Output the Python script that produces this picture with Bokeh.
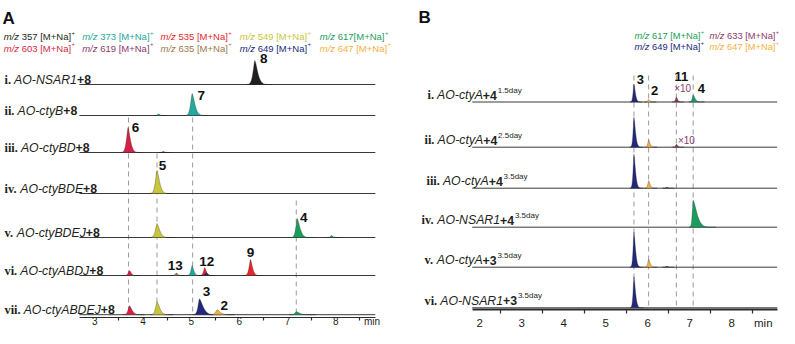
import numpy as np
from bokeh.plotting import figure
from bokeh.models import Range1d, FixedTicker, ColumnDataSource
from bokeh.layouts import row
from bokeh.core.properties import value
from bokeh.embed import file_html
from bokeh.resources import INLINE

# ---------------- ion colours (m/z) ----------------
MZ_COLOR = {357: "#231f20", 373: "#22a89c", 535: "#e3262e", 549: "#c8c63a",
            617: "#1a9d5c", 603: "#d61f45", 619: "#8c3a6e", 635: "#9c7a4c",
            649: "#23287a", 647: "#f4b143", 633: "#8a3a68"}

# ---------------- Panel A data ----------------
A_ROMAN = ["i.", "ii.", "iii.", "iv.", "v.", "vi.", "vii."]
A_STRAIN = ["AO-NSAR1", "AO-ctyB", "AO-ctyBD", "AO-ctyBDE", "AO-ctyBDEJ", "AO-ctyABDJ", "AO-ctyABDEJ"]
A_SUBSTRATE = ["+8", "+8", "+8", "+8", "+8", "+8", "+8"]
A_TICKS = [3, 4, 5, 6, 7, 8]
A_MINOR = [3.5, 4.5, 5.5, 6.5, 7.5, 8.5]
A_RUN = (2.68, 8.82)
A_REF_RT = [3.70, 4.29, 5.03, 7.18]
A_LEG_ROW1 = [357, 373, 535, 549, 617]
A_LEG_ROW2 = [603, 619, 635, 649, 647]
A_LEG_SEP1 = [" ", " ", " ", " ", ""]
A_LEG_SEP2 = [" ", " ", " ", " ", " "]

A_PK_TRACE = [0, 1, 1, 2, 2, 3, 4, 4, 4, 5, 5, 5, 5, 5, 5, 6, 6, 6, 6, 6]
A_PK_RT = [6.32, 4.32, 5.02, 3.69, 4.42, 4.29, 4.29, 7.20, 7.91, 3.72, 4.69, 5.02, 5.28, 5.31, 6.23, 3.72, 4.29, 5.17, 5.54, 7.18]
A_PK_H = [24, 1.5, 22, 25, 1.0, 23, 14, 19, 2, 5, 2.5, 10, 8, 3, 16, 9, 13, 16, 5, 3]
A_PK_MZ = [357, 373, 373, 603, 357, 549, 549, 617, 617, 603, 635, 373, 535, 649, 535, 603, 549, 649, 647, 617]
A_PK_SL = [0.05, 0.03, 0.045, 0.045, 0.03, 0.045, 0.045, 0.04, 0.03, 0.035, 0.03, 0.035, 0.035, 0.03, 0.04, 0.04, 0.04, 0.04, 0.045, 0.04]
A_PK_SR = [0.08, 0.04, 0.075, 0.065, 0.04, 0.07, 0.075, 0.075, 0.04, 0.045, 0.04, 0.045, 0.045, 0.04, 0.055, 0.07, 0.075, 0.1, 0.08, 0.09]
A_PK_LABEL = ["8", "", "7", "6", "", "5", "", "4", "", "", "13", "", "12", "", "9", "", "", "3", "2", ""]

# ---------------- Panel B data ----------------
B_ROMAN = ["i.", "ii.", "iii.", "iv.", "v.", "vi."]
B_STRAIN = ["AO-ctyA", "AO-ctyA", "AO-ctyA", "AO-NSAR1", "AO-ctyA", "AO-NSAR1"]
B_SUBSTRATE = ["+4", "+4", "+4", "+4", "+3", "+3"]
B_TIME = ["1.5day", "2.5day", "3.5day", "3.5day", "3.5day", "3.5day"]
B_TICKS = [2, 3, 4, 5, 6, 7, 8]
B_MINOR = [2.5, 3.5, 4.5, 5.5, 6.5, 7.5, 8.5]
B_RUN = (1.82, 9.08)
B_REF_RT = [5.67, 6.02, 6.68, 7.08]
B_LEG_ROW1 = [617, 633]
B_LEG_ROW2 = [649, 647]

B_PK_TRACE = [0, 0, 0, 0, 1, 1, 1, 2, 2, 2, 3, 4, 4, 4, 5]
B_PK_RT = [5.67, 6.02, 6.68, 7.08, 5.67, 6.02, 6.68, 5.67, 6.02, 6.45, 7.08, 5.67, 6.02, 6.45, 5.67]
B_PK_H = [18, 2.5, 5, 7, 30, 7, 3, 34, 7.5, 1, 27, 35, 8, 1, 31]
B_PK_MZ = [649, 647, 633, 617, 649, 647, 633, 649, 647, 649, 617, 649, 647, 649, 649]
B_PK_SL = [0.028, 0.03, 0.028, 0.03, 0.028, 0.028, 0.028, 0.028, 0.028, 0.03, 0.028, 0.028, 0.028, 0.03, 0.028]
B_PK_SR = [0.045, 0.04, 0.04, 0.06, 0.05, 0.045, 0.04, 0.05, 0.045, 0.04, 0.12, 0.05, 0.045, 0.04, 0.05]
B_PK_LABEL = ["3", "2", "11", "4", "", "", "", "", "", "", "", "", "", "", ""]
B_PK_NOTE = ["", "", "×10", "", "", "", "×10", "", "", "", "", "", "", "", ""]

# ---------------- layout (pixels of the picture) ----------------
H = 328
A_W, B_W = 392, 387
A_PPM, A_PX3 = 48.2, 94.3          # px per minute, x of 3 min
B_PPM, B_PX2 = 42.0, 479.3         # px per minute, x of 2 min
A_BASE = [84, 115, 152, 193, 237, 275, 314.2]
A_AXIS_Y = 316.5
B_BASE = [101.5, 146.7, 187.7, 226.7, 266.7, 307.3]
B_AXIS_Y = 309.3
A_DASH_TOP = [117, 153, 117, 200]
A_LAB_OFF = {"8": (9, -2), "7": (9, 2), "6": (7.5, 0), "5": (5.5, -5), "4": (6.5, -1.5),
             "13": (-1, -7.5), "12": (2, -6), "9": (0, -7.5), "3": (7, -7), "2": (7, -4)}
B_LAB_OFF = {"3": (6.5, -4.5), "2": (6, -9.5), "11": (5, -20.5), "4": (8.3, -7)}
B_NOTE_OFF = [(6.3, -8.4), (10, -3.7)]

ARIAL = {' ': 278, '+': 584, '-': 333, '.': 278, '/': 278, '[': 278, ']': 278, 'A': 667, 'B': 667,
         'C': 722, 'D': 722, 'E': 667, 'J': 500, 'M': 833, 'N': 722, 'O': 778, 'R': 722, 'S': 667,
         'a': 556, 'c': 500, 'd': 556, 'm': 833, 't': 278, 'y': 500, 'z': 500}
TIMESB = {'i': 278, 'v': 500, '.': 250, ' ': 250}


def tw(s, size, tbl=ARIAL):
    return sum(tbl.get(c, 556) for c in s) * size / 1000.0


def ta(px):
    return 3 + (px - A_PX3) / A_PPM


def tb(px):
    return 2 + (px - B_PX2) / B_PPM


def make_fig(width, x0, x1):
    p = figure(width=width, height=H, x_range=Range1d(x0, x1),
               y_range=Range1d(H, 0), output_backend="svg", toolbar_location=None,
               y_axis_type=None, min_border_left=0, min_border_right=0, min_border_top=0,
               min_border_bottom=0)
    p.outline_line_color = None
    p.xgrid.visible = False
    p.ygrid.visible = False
    p.background_fill_color = "white"
    p.border_fill_color = "white"
    return p


def peak_shape(rt, h, sl, sr, base):
    t = np.concatenate([np.linspace(rt - 3.5 * sl, rt, 25), np.linspace(rt, rt + 4.5 * sr, 35)[1:]])
    d = np.where(t < rt, (rt - t) / sl, (t - rt) / sr)
    y = h * np.exp(-d ** 1.5)
    return list(t), list(base - y)


def style_axis(p, ticks, minor, run, minpos, axis_y, fsize, standoff, lw, tick_len):
    allt = list(ticks) + [minpos]
    ax = p.xaxis[0]
    ax.fixed_location = axis_y
    ax.ticker = FixedTicker(ticks=allt, minor_ticks=minor)
    ov = {float(t): str(t) for t in ticks}
    ov[float(minpos)] = "min"
    ax.major_label_overrides = ov
    ax.bounds = run
    ax.axis_line_color = "#2b2b2b"
    ax.axis_line_width = lw
    ax.major_tick_out = 0
    ax.major_tick_in = 0
    ax.minor_tick_out = tick_len
    ax.minor_tick_in = 0
    ax.minor_tick_line_color = "#2b2b2b"
    ax.minor_tick_line_width = 1.2
    ax.major_label_standoff = standoff
    ax.major_label_text_font = "Liberation Sans"
    ax.major_label_text_font_size = fsize
    ax.major_label_text_color = "#231f20"


def add_texts(p, xs, ys, texts, colors, font, style, size, align="left", baseline="alphabetic"):
    src = ColumnDataSource(dict(x=xs, y=ys, t=texts, c=colors))
    p.text(x="x", y="y", text="t", text_color="c", source=src, text_font=value(font),
           text_font_style=style, text_font_size=size, text_align=align, text_baseline=baseline)


def draw_panel(p, base, run, ref_rt, dash_top, dash_bot,
               pk_trace, pk_rt, pk_h, pk_mz, pk_sl, pk_sr):
    p.segment(x0=ref_rt, x1=ref_rt, y0=list(dash_top), y1=[dash_bot] * len(ref_rt),
              line_color="#9a9a9a", line_width=1, line_dash="5 4")
    p.segment(x0=[run[0]] * len(base), x1=[run[1]] * len(base), y0=list(base),
              y1=list(base), line_color="#3a3a3a", line_width=1)
    xs, ys, cs = [], [], []
    for tr, rt, h, mz, sl, sr in zip(pk_trace, pk_rt, pk_h, pk_mz, pk_sl, pk_sr):
        x, y = peak_shape(rt, h, sl, sr, base[tr])
        xs.append(x)
        ys.append(y)
        cs.append(MZ_COLOR[mz])
    p.patches(xs="xs", ys="ys", fill_color="c", line_color="#222222", line_width=0.5, line_alpha=0.6,
              source=ColumnDataSource(dict(xs=xs, ys=ys, c=cs)))


def legend(p, tconv, xpx, ypx, mzs, seps, size):
    ix, iy, it, ic = [], [], [], []
    rx, ry, rt_, rc = [], [], [], []
    sx, sy, st, sc = [], [], [], []
    for x0, mz, sep in zip(xpx, mzs, seps):
        col = MZ_COLOR[mz]
        ix.append(tconv(x0)); iy.append(ypx); it.append("m/z"); ic.append(col)
        body = "%d%s[M+Na]" % (mz, sep)
        x1 = x0 + tw("m/z ", size)
        rx.append(tconv(x1)); ry.append(ypx); rt_.append(body); rc.append(col)
        x2 = x1 + tw(body, size) + 0.4
        sx.append(tconv(x2)); sy.append(ypx - 4); st.append("+"); sc.append(col)
    add_texts(p, ix, iy, it, ic, "Liberation Sans", "italic", "%.1fpx" % size)
    add_texts(p, rx, ry, rt_, rc, "Liberation Sans", "normal", "%.1fpx" % size)
    add_texts(p, sx, sy, st, sc, "Liberation Sans", "normal", "%.1fpx" % (size * 0.62))


def row_labels(p, tconv, xpx, ypx, roman, strain, subst, sup, size):
    ax, ay, at = [], [], []
    bx, by, bt = [], [], []
    cx, cy, ct = [], [], []
    dx, dy, dt = [], [], []
    for i in range(len(roman)):
        x0, y0 = xpx[i], ypx[i]
        ax.append(tconv(x0)); ay.append(y0); at.append(roman[i])
        x1 = x0 + tw(roman[i] + " ", size, TIMESB)
        bx.append(tconv(x1)); by.append(y0); bt.append(strain[i])
        x2 = x1 + tw(strain[i], size)
        cx.append(tconv(x2)); cy.append(y0); ct.append(subst[i])
        if sup is not None:
            x3 = x2 + tw(subst[i], size) + 0.8
            dx.append(tconv(x3)); dy.append(y0 - 5); dt.append(sup[i])
    k = "#231f20"
    add_texts(p, ax, ay, at, [k] * len(at), "Liberation Serif", "bold", "%.1fpx" % size)
    add_texts(p, bx, by, bt, [k] * len(bt), "Liberation Sans", "italic", "%.1fpx" % size)
    add_texts(p, cx, cy, ct, [k] * len(ct), "Liberation Sans", "bold", "%.1fpx" % size)
    if sup is not None:
        add_texts(p, dx, dy, dt, [k] * len(dt), "Liberation Sans", "normal", "8px")


# ================= Panel A =================
pA = make_fig(A_W, ta(0), ta(A_W))
style_axis(pA, A_TICKS, A_MINOR, A_RUN, 8.75, A_AXIS_Y, "10px", -4, 1.2, 3)
draw_panel(pA, A_BASE, A_RUN, A_REF_RT, A_DASH_TOP, A_BASE[-1],
           A_PK_TRACE, A_PK_RT, A_PK_H, A_PK_MZ, A_PK_SL, A_PK_SR)
lx, ly, lt = [], [], []
for tr, rt, h, lab in zip(A_PK_TRACE, A_PK_RT, A_PK_H, A_PK_LABEL):
    if lab:
        ox, oy = A_LAB_OFF[lab]
        lx.append(rt + ox / A_PPM); ly.append(A_BASE[tr] - h + oy); lt.append(lab)
add_texts(pA, lx, ly, lt, ["#111111"] * len(lt), "Liberation Sans", "bold", "13.5px", "center", "middle")
add_texts(pA, [ta(2)], [17.5], ["A"], ["#111111"], "Liberation Sans", "bold", "17px")
legend(pA, ta, [3.3, 81.7, 160, 239.3, 319.3], 36, A_LEG_ROW1, A_LEG_SEP1, 9.5)
legend(pA, ta, [3.3, 81.7, 160, 239.3, 319.3], 47.5, A_LEG_ROW2, A_LEG_SEP2, 9.5)
row_labels(pA, ta, [4] * 7, [b - 5 for b in A_BASE], A_ROMAN, A_STRAIN, A_SUBSTRATE, None, 12.3)

# ================= Panel B =================
pB = make_fig(B_W, tb(A_W), tb(A_W + B_W))
style_axis(pB, B_TICKS, B_MINOR, B_RUN, 8.75, B_AXIS_Y, "11.5px", 3, 1.8, 4)
draw_panel(pB, B_BASE, B_RUN, B_REF_RT, [75] * 4, B_BASE[-1],
           B_PK_TRACE, B_PK_RT, B_PK_H, B_PK_MZ, B_PK_SL, B_PK_SR)
lx, ly, lt = [], [], []
nx, ny, nt = [], [], []
ni = 0
for tr, rt, h, lab, note in zip(B_PK_TRACE, B_PK_RT, B_PK_H, B_PK_LABEL, B_PK_NOTE):
    if lab:
        ox, oy = B_LAB_OFF[lab]
        lx.append(rt + ox / B_PPM); ly.append(B_BASE[tr] - h + oy); lt.append(lab)
    if note:
        ox, oy = B_NOTE_OFF[ni]
        ni += 1
        nx.append(rt + ox / B_PPM); ny.append(B_BASE[tr] - h + oy); nt.append(note)
add_texts(pB, lx, ly, lt, ["#111111"] * len(lt), "Liberation Sans", "bold", "13px", "center", "middle")
add_texts(pB, nx, ny, nt, [MZ_COLOR[633]] * len(nt), "Liberation Sans", "normal", "10px", "center", "middle")
add_texts(pB, [tb(418)], [16.5], ["B"], ["#111111"], "Liberation Sans", "bold", "17px")
legend(pB, tb, [634, 709], 35, B_LEG_ROW1, [" ", " "], 9.3)
legend(pB, tb, [634, 709], 46.5, B_LEG_ROW2, [" ", " "], 9.3)
row_labels(pB, tb, [427, 424, 426, 421, 424, 424], [b - 7 for b in B_BASE],
           B_ROMAN, B_STRAIN, B_SUBSTRATE, B_TIME, 12.3)

layout = row(pA, pB)
open("out.html", "w").write(file_html(layout, INLINE))
